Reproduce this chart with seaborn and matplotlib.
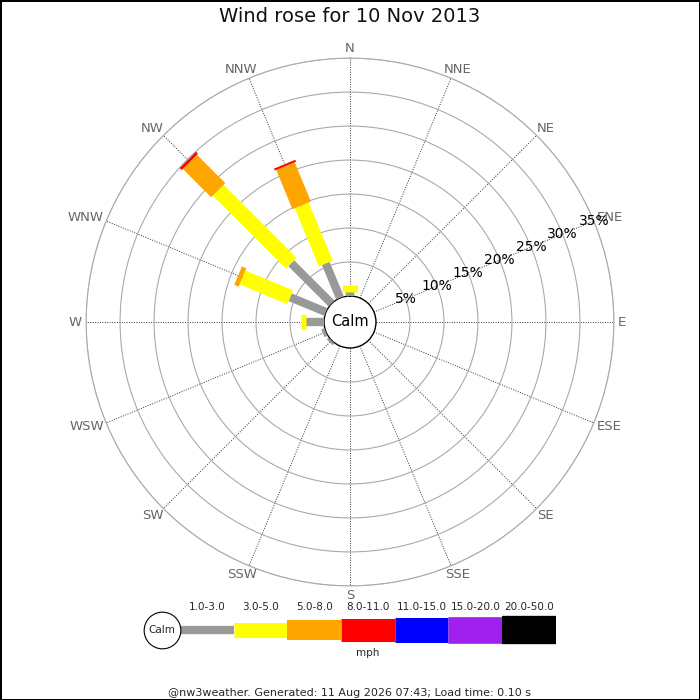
import numpy as np
import matplotlib
matplotlib.use("Agg")
import matplotlib.pyplot as plt
import seaborn as sns

# Directions (compass, clockwise from N) and % frequency per speed bin
directions = ["N", "NNE", "NE", "ENE", "E", "ESE", "SE", "SSE",
              "S", "SSW", "SW", "WSW", "W", "WNW", "NW", "NNW"]
angles = np.arange(16) * 22.5

speed_bins = ["1.0-3.0", "3.0-5.0", "5.0-8.0", "8.0-11.0",
              "11.0-15.0", "15.0-20.0", "20.0-50.0"]
bin_colors = ["#999999", "#ffff00", "#ffa500", "#ff0000",
              "#0000ff", "#a020f0", "#000000"]
bin_widths = [6.0, 10.8, 14.4, 16.6, 18.0, 19.2, 20.4]  # line widths, pt

#            N     NNE  NE   ENE  E    ESE  SE   SSE  S    SSW  SW   WSW  W    WNW  NW    NNW
pct_1_3   = [0.65, 0,   0,   0,   0,   0,   0,   0,   0,   0,   0.4, 0.5, 2.6, 5.7, 8.4,  5.5]
pct_3_5   = [0.95, 0,   0,   0,   0,   0,   0,   0,   0,   0,   0,   0,   0.8, 7.6, 15.2, 9.25]
pct_5_8   = [0,    0,   0,   0,   0,   0,   0,   0,   0,   0,   0,   0,   0,   0.7, 5.9,  6.25]
pct_8_11  = [0,    0,   0,   0,   0,   0,   0,   0,   0,   0,   0,   0,   0,   0,   0.4,  0.3]
pct_11_15 = [0] * 16
pct_15_20 = [0] * 16
pct_20_50 = [0] * 16

rings = [5, 10, 15, 20, 25, 30, 35]

sns.set_theme(style="white")
plt.rcParams["font.family"] = ["DejaVu Sans"]

fig = plt.figure(figsize=(7, 7), dpi=100)
fig.patch.set_edgecolor("black")
fig.patch.set_linewidth(2)

ax = fig.add_axes([0.5 - 0.377, 0.54 - 0.377, 0.754, 0.754], projection="polar")
ax.set_theta_zero_location("N")
ax.set_theta_direction(-1)
ax.set_ylim(0, 35)
ax.set_rorigin(-26 / 6.8)
ax.set_axisbelow(True)

ax.set_xticks(np.deg2rad(angles))
ax.set_xticklabels([])
ax.set_yticks(rings)
ax.set_yticklabels([])
ax.grid(True)
ax.xaxis.grid(True, color="#333333", linestyle=(0, (1, 1.5)), linewidth=0.7)
ax.yaxis.grid(True, color="#aaaaaa", linestyle="-", linewidth=0.8)
ax.spines["polar"].set_color("#aaaaaa")
ax.spines["polar"].set_linewidth(0.8)
if "inner" in ax.spines:
    ax.spines["inner"].set_visible(True)
    ax.spines["inner"].set_color("black")
    ax.spines["inner"].set_linewidth(1)

# direction labels: box touches a circle just outside the outer ring
dir_texts = []
for th, name in zip(np.deg2rad(angles), directions):
    t = ax.annotate(name, xy=(th, 35.6), xytext=(0, 0),
                    textcoords="offset pixels", ha="center", va="center",
                    fontsize=9.5, color="#666666", annotation_clip=False)
    dir_texts.append((th, t))
fig.canvas.draw()
renderer = fig.canvas.get_renderer()
for th, t in dir_texts:
    bb = t.get_window_extent(renderer)
    t.set_position((np.sin(th) * bb.width / 2, np.cos(th) * bb.height * 0.4))

series = [pct_1_3, pct_3_5, pct_5_8, pct_8_11, pct_11_15, pct_15_20, pct_20_50]
cum = np.zeros(16)
for vals, col, lw in zip(series, bin_colors, bin_widths):
    vals = np.asarray(vals, dtype=float)
    for th, start, v in zip(np.deg2rad(angles), cum, vals):
        if v > 0:
            ax.plot([th, th], [start, start + v], color=col, linewidth=lw,
                    solid_capstyle="butt", zorder=3)
    cum = cum + vals

for r in rings:
    ax.text(np.deg2rad(67.5), r, f"{r}%", ha="center", va="center",
            fontsize=10, color="black", zorder=4)

ax.text(0.5, 0.5, "Calm", transform=ax.transAxes, ha="center", va="center",
        fontsize=10.5, color="black")

fig.text(0.5, 1 - 17 / 700, "Wind rose for 10 Nov 2013", ha="center",
         va="center", fontsize=14, color="#111111")

# speed legend
lax = fig.add_axes([137 / 700, (700 - 665) / 700, 429.6 / 700, 70 / 700])
lax.set_xlim(-0.8, 7.2)
lax.set_ylim(-35, 35)
lax.axis("off")
for i, (lab, col, lw) in enumerate(zip(speed_bins, bin_colors, bin_widths)):
    lax.plot([i, i + 1], [0, 0], color=col, linewidth=lw, solid_capstyle="butt")
    lax.text(i + 0.5, 23.3, lab, ha="center", va="center", fontsize=7.5)
lax.plot([-0.33], [0], marker="o", markersize=26.4, markerfacecolor="white",
         markeredgecolor="black", markeredgewidth=0.8, zorder=3)
lax.text(-0.33, 0, "Calm", ha="center", va="center", fontsize=7.5, zorder=4)
lax.text(3.5, -23.3, "mph", ha="center", va="center", fontsize=7.5)

fig.text(0.5, 7 / 700,
         "@nw3weather. Generated: 11 Aug 2026 07:43; Load time: 0.10 s",
         ha="center", va="center", fontsize=8)

fig.savefig("out.png", dpi=100)
